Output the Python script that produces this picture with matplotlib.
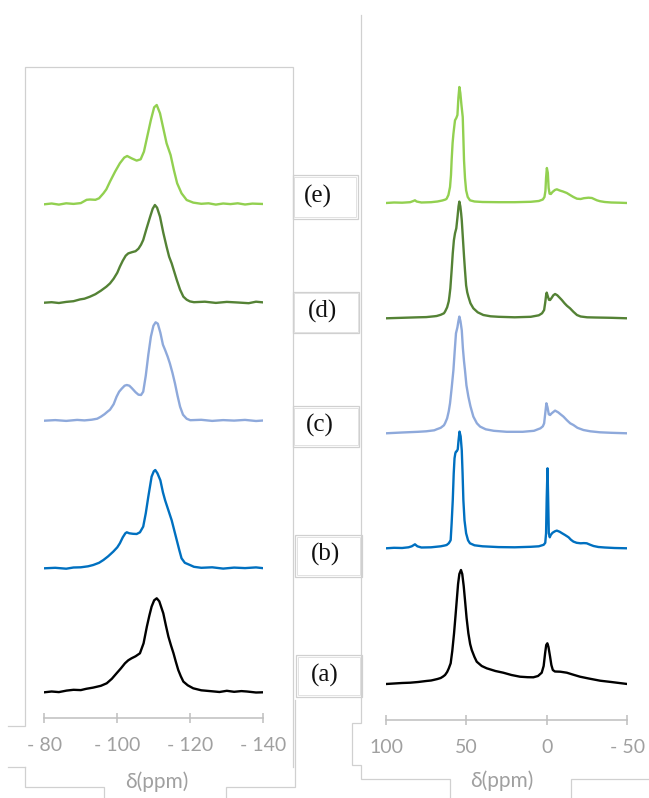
import matplotlib.pyplot as plt
from matplotlib.patches import Rectangle

# ---- 29Si spectra (left panel), intensity in a.u. ----
si_ppm_e = [-80, -82, -84, -86, -88, -90, -91.6, -92.5, -94, -95, -96.2, -97, -98, -99.4, -100.7, -101.9,
            -102.7, -103.9, -105.3, -106.4, -107.3, -108.2, -109.2, -110.1, -110.8, -111.7, -112.6, -113.5,
            -114.6, -115.5, -116.4, -117.6, -119, -120.8, -123, -125, -127, -129, -131, -133, -135, -137, -140]
si_int_e = [0, 0.8, -0.3, 1.0, 0.4, 1.2, 4.5, 4.8, 4.5, 6, 11, 15, 22.7, 32.7, 41, 46.7,
            48.3, 46, 43.7, 45, 52.7, 67.7, 84.3, 97, 99.3, 91, 76, 61,
            49.3, 34.3, 21, 11, 4.3, 1.7, 0.5, 1.0, -0.3, 0.8, 0.2, 1.0, -0.2, 0.7, 0.3]

si_ppm_d = [-80, -82, -84, -86, -88, -89.8, -91, -92.5, -94, -95.5, -97, -98, -99, -100, -100.7, -101.5,
            -102.3, -103, -104, -105, -105.8, -106.5, -107.1, -108, -109, -109.7, -110.3, -110.9, -111.7,
            -112.6, -113.5, -114.2, -114.9, -115.6, -116.3, -117.2, -118.1, -119, -119.9, -121, -124,
            -127, -130, -133, -136, -138, -140]
si_int_d = [0, 0.5, -0.3, 0.8, 1.5, 3.3, 4, 6, 8.5, 12, 16, 19.3, 24, 30, 36, 42,
            47, 49.3, 50.5, 51.5, 54, 58, 62.7, 74, 86, 94, 97.7, 95, 86,
            70, 56, 46, 39.3, 31, 22.7, 13, 6, 3, 1.3, 0.5, 1.0,
            -0.2, 0.8, 0.2, -0.5, 1.0, 0.3]

si_ppm_c = [-80, -83, -86, -89, -91, -93, -94.5, -95.5, -96.5, -97.3, -98, -99, -99.8, -100.5, -101.2,
            -102, -102.6, -103.3, -104, -105, -105.8, -106.5, -107.1, -107.8, -108.5, -109.2, -109.9,
            -110.5, -111.1, -111.8, -112.5, -113.1, -113.8, -114.4, -115.1, -115.8, -116.5, -117.2, -118,
            -119, -120, -123, -126, -129, -132, -135, -138, -140]
si_int_c = [0, 0.6, -0.2, 0.8, 0.3, 1, 2, 4, 6.5, 9, 11, 16.5, 24, 29, 32,
            35, 35.7, 35, 32.5, 28.5, 26, 25.7, 29, 45, 66, 84, 95,
            98.4, 97, 88, 76, 70.7, 64, 57.3, 48, 37.3, 25, 14, 6,
            2, 0.5, 0.9, -0.2, 0.6, 0.1, 0.8, -0.3, 0.2]

si_ppm_b = [-80, -83, -86, -88, -90, -92, -93.4, -95, -96.2, -97.5, -98.9, -100, -100.7, -101.5, -102.2,
            -102.6, -103.3, -104.3, -105.3, -106.2, -107.1, -107.8, -108.5, -109.4, -110, -110.4, -111,
            -111.8, -112.5, -113.1, -114, -114.9, -115.6, -116.3, -117, -117.6, -118.5, -119.9, -121,
            -123, -126, -129, -132, -135, -138, -140]
si_int_b = [0, 0.5, -0.4, 0.8, 1, 2, 3.3, 5.5, 8.3, 12, 16.7, 21, 25, 31, 35,
            36, 35, 34.5, 34.3, 36, 41.7, 55, 71.7, 91.7, 97, 98.3, 95,
            88, 76, 68, 58, 48, 38, 28, 18, 10, 5.5, 3.3, 1.5,
            0.5, 1.0, -0.3, 0.7, 0.2, 0.9, 0.1]

si_ppm_a = [-80, -82, -84, -86.1, -88, -90, -91.5, -93.4, -95.5, -97.1, -98.5, -99.8, -101, -102.1, -103,
            -103.9, -105, -106.2, -107.2, -108.1, -108.8, -109.4, -110.1, -110.8, -111.5, -112.6, -113.3,
            -114, -114.7, -115.4, -116, -116.7, -117.4, -118.1, -119.3, -120.8, -123, -126, -128, -130,
            -132, -134, -135.5, -138, -140]
si_int_a = [0, 0.8, 0.2, 1.7, 2.5, 2.2, 3.5, 4.7, 6.5, 9, 13.5, 19, 24, 29, 32,
            34, 36, 39, 49, 65.7, 77, 85.7, 92, 94, 91, 79, 67,
            55.7, 47, 39, 31, 22.3, 16, 10.7, 7, 4, 2, 1, 0.3, 1.5,
            0.5, 1.2, 0.8, -0.2, 0]

# ---- 13C spectra (right panel), intensity in a.u. ----
c_ppm_e = [100, 95, 90, 85, 83, 82, 81, 78, 72, 68, 65, 63, 62.3, 61.2, 60.2, 59.6, 59.2, 58.6, 58.1, 57.6,
           57.1, 56.3, 55.6, 55, 54.4, 53.8, 53.1, 52.3, 51.9, 51.5, 50.9, 50.2, 49.2, 47.8, 45, 40, 30, 20,
           10, 5, 2.5, 1.5, 0.9, 0.5, 0, -0.6, -1.1, -1.7, -2.5, -3.5, -5, -6.2, -8, -10, -12.4, -14.4,
           -16.5, -18.7, -21, -23, -25.9, -28, -30, -31.1, -33, -36, -40, -45, -50]
c_int_e = [0, 0.5, 0.3, 0.8, 2, 2.7, 1.5, 0.5, 0.8, 1.5, 2.5, 3.5, 4.3, 8, 16, 28, 42.7, 60, 69, 76,
           82.7, 85, 88, 105, 116, 110, 98, 86, 65, 42.7, 25, 12.7, 6, 2.7, 1.5, 1, 0.8, 0.8,
           1.2, 2, 3.5, 6, 12, 25, 35, 30, 15, 9.3, 9, 11, 13, 13.7, 12.5, 11.5, 10, 8,
           6, 4.3, 4, 4.8, 5.3, 5, 3.5, 2.7, 1.8, 1, 0.5, 0.3, 0]

c_ppm_d = [100, 90, 80, 75, 70, 68.5, 66, 64, 63.3, 62, 61, 60.6, 60, 59.2, 58.5, 57.8, 57.1, 56.3, 55.5,
           54.9, 54.4, 53.8, 53.3, 52.9, 52.2, 51.5, 50.9, 50.2, 49.5, 48.8, 47.5, 45.7, 43, 39.5, 35, 30,
           20, 10, 5, 3, 1.7, 1, 0.4, 0.1, -0.6, -1.3, -2, -3, -4, -5.1, -6.5, -8, -9.3, -11, -12.5,
           -14.4, -16.5, -18.7, -21, -25, -30, -40, -50]
c_int_d = [0, 0.5, 1, 1.2, 2, 2.3, 3.5, 5, 6.7, 11, 17, 21.7, 30, 48, 65, 78, 85, 90, 102,
           112, 116.7, 112, 105, 98, 80, 62, 48, 33, 26, 21.7, 15, 10, 6, 3.3, 2, 1.5,
           1, 1.5, 3, 5, 8.3, 16, 24, 25.7, 22, 18.5, 18.3, 20.5, 23, 24.3, 23, 20.5, 18.3, 15, 12.5,
           10, 6.5, 3.3, 1.8, 1, 0.8, 0.5, 0]

c_ppm_c = [100, 90, 80, 75, 70, 68.5, 66, 64, 63.3, 62, 61, 60.2, 59.2, 58.1, 57.3, 56.5, 55.6, 55, 54.4,
           53.7, 52.9, 52.2, 51.5, 50.9, 50, 48.8, 47.5, 45.7, 43.5, 41.5, 38, 33, 25, 15, 8, 4, 2.5,
           1.7, 1, 0.3, -0.4, -1.2, -2, -3, -5.1, -7, -8.5, -10.3, -12.5, -14.5, -16.5, -19, -22.7, -27,
           -33, -40, -50]
c_int_c = [0, 0.8, 1.5, 2, 3, 4, 5.5, 8, 10, 15, 22, 30, 45, 63, 82, 100, 106, 112, 116.7,
           112, 103, 85, 72, 63, 48, 36.7, 27, 16.7, 10, 6.7, 4, 2.5, 1.5, 1.5, 2.5, 5, 7,
           10, 20, 30, 26, 19, 18.3, 20, 22.7, 21, 19, 16.7, 13, 10, 8.3, 5.5, 3.3, 2,
           1, 0.5, 0]

c_ppm_b = [100, 95, 90, 86, 84, 82, 80.5, 78, 72, 66, 63.5, 62.3, 61, 60.2, 59.8, 59.2, 58.5, 57.9, 57.4,
           56.9, 56.5, 56, 55.4, 54.9, 54.3, 53.6, 52.9, 52.4, 51.9, 51.2, 50.2, 49, 47.8, 45, 40, 30, 20,
           10, 5, 2, 1, 0.5, 0.1, -0.4, -0.8, -1.2, -1.8, -2.4, -3.5, -5, -6.2, -8, -9.5, -11.3, -13.5,
           -15, -16.5, -18.5, -21, -23, -24.8, -27, -29, -32, -36, -42, -50]
c_int_b = [0, 0.5, 0.3, 1, 2, 4, 2, 0.8, 1, 2, 2.8, 3.3, 5, 7, 8.3, 25, 48, 75, 90,
           95, 96.7, 97, 99, 108, 116.7, 112, 98, 75, 48, 28, 15, 8, 5, 3, 2, 1.2, 1,
           1.5, 2, 3.5, 5.5, 15, 50, 80, 50, 15, 11, 13.3, 15.5, 17, 17.7, 16.5, 15, 13.3, 11,
           8.5, 6.7, 5.5, 5, 5.2, 5, 3.5, 2.3, 1.3, 0.8, 0.3, 0]

c_ppm_a = [100, 95, 90, 85, 80, 75, 72, 70.6, 68, 66, 64.5, 63.3, 62, 61, 59.8, 58.8, 57.7, 56.8, 56,
           55.2, 54.4, 53.4, 52.6, 51.7, 50.9, 49.9, 48.8, 47.7, 46.7, 45, 43.6, 40.5, 37.4, 32, 27.1, 22,
           16.7, 12, 8.4, 5.5, 3.2, 2, 1.1, 0.4, -0.3, -1, -2, -2.8, -3.7, -5, -8.3, -12.4, -16, -20.6,
           -26, -33.1, -40, -45, -50]
c_int_a = [0, 0.5, 1, 1.3, 2, 3, 3.5, 4, 5, 6, 7.5, 9, 12, 15.5, 20.7, 33, 50.7, 68, 84,
           100, 110, 114, 110, 98, 84, 66, 50.7, 40, 34, 27, 22.3, 18, 15.7, 13, 11.3, 9,
           7.3, 6.8, 6.7, 8, 11.3, 18, 30.7, 39, 40.7, 37, 27.3, 19, 14, 12.5, 12.3, 11.3, 9.5, 7.3,
           5.5, 3.3, 2, 1, 0]

sample_labels = ["(a)", "(b)", "(c)", "(d)", "(e)"]
colors = ["#000000", "#0070C0", "#8EA9DB", "#548235", "#92D050"]

si_ppm = [si_ppm_a, si_ppm_b, si_ppm_c, si_ppm_d, si_ppm_e]
si_int = [si_int_a, si_int_b, si_int_c, si_int_d, si_int_e]
c_ppm = [c_ppm_a, c_ppm_b, c_ppm_c, c_ppm_d, c_ppm_e]
c_int = [c_int_a, c_int_b, c_int_c, c_int_d, c_int_e]

# stacking offsets (a.u.)
si_offsets = [25.7, 149.7, 297.3, 415.3, 513.7]
c_offsets = [36, 171.7, 286.7, 401.7, 517]

W, H = 649, 798
fig = plt.figure(figsize=(W / 100, H / 100), dpi=100)
frame_col = "#D0D0D0"
axis_col = "#BFBFBF"
label_col = "#A0A0A0"
num_font = ["Lato", "DejaVu Sans"]

# background layer for frames and label boxes (pixel units)
bg = fig.add_axes([0, 0, 1, 1])
bg.set_xlim(0, W)
bg.set_ylim(H, 0)
bg.axis("off")

segments = [
    [(25, 767), (25, 787), (104, 787), (104, 798)],
    [(8, 726), (25, 726), (25, 67), (293, 67), (293, 767)],
    [(8, 767), (25, 767)],
    [(226, 798), (226, 787), (295, 787), (295, 700)],
    [(361, 15), (361, 723), (352, 723), (352, 765), (361, 765), (361, 779), (450, 779), (450, 798)],
    [(571, 798), (571, 779), (649, 779)],
]
for seg in segments:
    xs, ys = zip(*seg)
    bg.plot(xs, ys, color=frame_col, lw=0.9, solid_joinstyle="miter")

boxes = [(296, 655, 361.7, 697), (295, 535, 361.7, 576.7), (292.7, 406, 359.3, 446.7),
         (292.7, 291.7, 359.3, 333.3), (292.7, 175, 357.7, 219)]
text_x = [325, 325, 320, 322.7, 318]
for (x0, y0, x1, y1), lab, tx in zip(boxes, sample_labels, text_x):
    bg.add_patch(Rectangle((x0, y0), x1 - x0, y1 - y0, fill=True, facecolor="white",
                           edgecolor=frame_col, lw=0.9))
    bg.add_patch(Rectangle((x0 + 1.6, y0 + 1.6), x1 - x0 - 3.2, y1 - y0 - 3.2, fill=False,
                           edgecolor="#E2E2E2", lw=0.7))
    bg.text(tx, (y0 + y1) / 2 - 1, lab, ha="center", va="center", fontsize=18,
            family="Liberation Serif", color="#111111")

bg.text(156.7, 782, "δ(ppm)", ha="center", va="center", fontsize=15, color=label_col, family=num_font)
bg.text(501.7, 781, "δ(ppm)", ha="center", va="center", fontsize=15, color=label_col, family=num_font)


def make_axes(x0, x1, ytop, ybase):
    ax = fig.add_axes([x0 / W, (H - ybase) / H, (x1 - x0) / W, (ybase - ytop) / H])
    ax.patch.set_alpha(0)
    for s in ["top", "left", "right"]:
        ax.spines[s].set_visible(False)
    ax.spines["bottom"].set_color(axis_col)
    ax.spines["bottom"].set_linewidth(1.1)
    ax.tick_params(axis="x", direction="inout", length=7, width=1.1, color=axis_col,
                   labelcolor=label_col, labelsize=14, pad=10)
    ax.set_yticks([])
    ax.set_ylim(0, ybase - ytop)
    return ax


ax1 = make_axes(44.3, 263.3, 80, 718)
for x, y, off, col in zip(si_ppm, si_int, si_offsets, colors):
    ax1.plot(x, [v + off for v in y], color=col, lw=1.7, solid_joinstyle="round")
ax1.set_xlim(-80, -140)
ax1.set_xticks([-80, -100, -120, -140])
ax1.set_xticklabels(["- 80", "- 100", "- 120", "- 140"], family=num_font)

ax2 = make_axes(386, 627.3, 60, 720)
for x, y, off, col in zip(c_ppm, c_int, c_offsets, colors):
    ax2.plot(x, [v + off for v in y], color=col, lw=1.7, solid_joinstyle="round")
ax2.set_xlim(100, -50)
ax2.set_xticks([100, 50, 0, -50])
ax2.set_xticklabels(["100", "50", "0", "- 50"], family=num_font)

fig.savefig("out.png", dpi=100)
